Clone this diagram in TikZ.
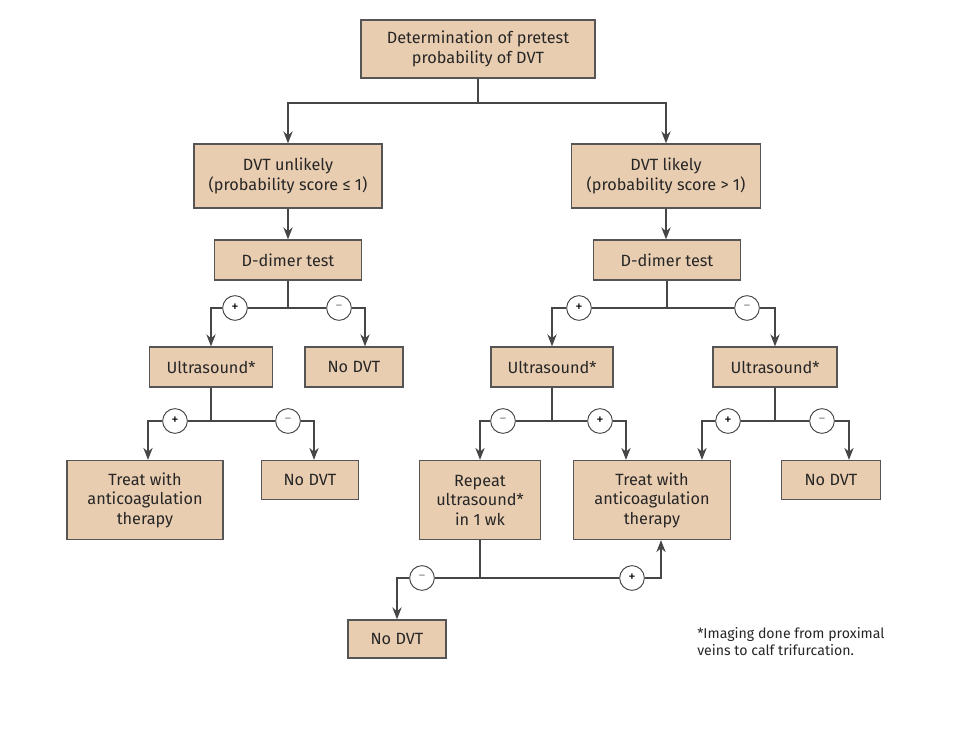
\documentclass[tikz,border=0pt]{standalone}
\usepackage{fontspec}
\setmainfont{Fira Sans}
\usetikzlibrary{arrows.meta,calc}

\definecolor{boxfill}{RGB}{233,205,177}
\definecolor{boxline}{RGB}{85,85,85}
\definecolor{wire}{RGB}{70,70,70}

\tikzset{
  box/.style={draw=boxline,line width=1pt,fill=boxfill,align=center,inner sep=0pt,
    font=\fontsize{12.2}{14.6}\selectfont,text=black!85},
  boxsize/.style 2 args={minimum width=#1*0.75pt,minimum height=#2*0.75pt},
  sign/.style={circle,draw=wire,line width=0.7pt,fill=white,minimum size=18.5pt,inner sep=0pt,
    font=\fontsize{11}{11}\selectfont},
  neg/.style={sign,text=black!45},
  line/.style={draw=wire,line width=1pt},
  arr/.style={line,-{Stealth[length=9pt,width=7pt]}}
}

\begin{document}
\begin{tikzpicture}[x=0.75pt,y=-0.75pt]

\useasboundingbox (0,0) rectangle (976,731);

% ============================================================
% 1. PRETEST PROBABILITY
% ============================================================

\node[box,boxsize={234}{58}] (top) at (478,49)
  {Determination of pretest\\probability of DVT};
\node[box,boxsize={188}{64}] (unl) at (288,176)
  {DVT unlikely\\(probability score ≤ 1)};
\node[box,boxsize={189}{64}] (lik) at (666,176)
  {DVT likely\\(probability score > 1)};

\coordinate (j0) at (478,103);
\draw[line] (top.south) -- (j0);
\draw[arr] (j0) -| (unl.north);
\draw[arr] (j0) -| (lik.north);

% ============================================================
% 2. DVT UNLIKELY
% ============================================================

\node[box,boxsize={147}{40}] (dd1) at (288,260) {D-dimer test};
\node[box,boxsize={123}{40}] (us1) at (211,367) {Ultrasound*};
\node[box,boxsize={98}{40}]  (nd1) at (354,367) {No DVT};
\node[box,boxsize={156}{79}] (tr1) at (145,500)
  {Treat with\\anticoagulation\\therapy};
\node[box,boxsize={97}{39}]  (nd2) at (310,480) {No DVT};

\draw[arr] (unl) -- (dd1);

\node[sign] (a1) at (235,308) {+};
\node[neg]  (a2) at (339,308) {−};
\draw[line] (dd1.south) |- (a1);
\draw[line] (dd1.south) |- (a2);
\draw[arr] (a1) -| (us1.north);
\draw[arr] (a2) -| ($(nd1.north)+(11,0)$);

\node[sign] (c1) at (175,421) {+};
\node[neg]  (c2) at (288,421) {−};
\draw[line] (us1.south) |- (c1);
\draw[line] (us1.south) |- (c2);
\draw[arr] (c1) -| ($(tr1.north)+(3,0)$);
\draw[arr] (c2) -| ($(nd2.north)+(4,0)$);

% ============================================================
% 3. DVT LIKELY
% ============================================================

\node[box,boxsize={147}{40}] (dd2) at (667,260) {D-dimer test};
\node[box,boxsize={122}{40}] (us2) at (552,367) {Ultrasound*};
\node[box,boxsize={124}{40}] (us3) at (775,367) {Ultrasound*};
\node[box,boxsize={121}{79}] (rp)  at (480,500)
  {Repeat\\ultrasound*\\in 1 wk};
\node[box,boxsize={157}{79}] (tr2) at (652,500)
  {Treat with\\anticoagulation\\therapy};
\node[box,boxsize={99}{39}]  (nd3) at (831,480) {No DVT};
\node[box,boxsize={98}{38}]  (nd4) at (397,639) {No DVT};

\draw[arr] (lik.south) -- (lik.south |- dd2.north);

\node[sign] (b1) at (579,308) {+};
\node[neg]  (b2) at (747,308) {−};
\draw[line] (dd2.south) |- (b1);
\draw[line] (dd2.south) |- (b2);
\draw[arr] (b1) -| (us2.north);
\draw[arr] (b2) -| (us3.north);

\node[neg]  (d1) at (503,421) {−};
\node[sign] (d2) at (600,421) {+};
\draw[line] (us2.south) |- (d1);
\draw[line] (us2.south) |- (d2);
\draw[arr] (d1) -| (rp.north);
\draw[arr] (d2) -| ($(tr2.north)+(-26,0)$);

\node[sign] (e1) at (728,421) {+};
\node[neg]  (e2) at (822,421) {−};
\draw[line] (us3.south) |- (e1);
\draw[line] (us3.south) |- (e2);
\draw[arr] (e1) -| ($(tr2.north)+(50,0)$);
\draw[arr] (e2) -| ($(nd3.north)+(18,0)$);

\node[neg]  (f1) at (422,578) {−};
\node[sign] (f2) at (632,578) {+};
\draw[line] (rp.south) |- (f1);
\draw[line] (rp.south) |- (f2);
\draw[arr] (f1) -| (nd4.north);
\draw[arr] (f2) -| ($(tr2.south)+(9,0)$);

% footnote
\node[anchor=north west,align=left,inner sep=0pt,text=black!85,
  font=\fontsize{10.6}{13.2}\selectfont] (note) at (697,627)
  {*Imaging done from proximal\\veins to calf trifurcation.};

\end{tikzpicture}
\end{document}
